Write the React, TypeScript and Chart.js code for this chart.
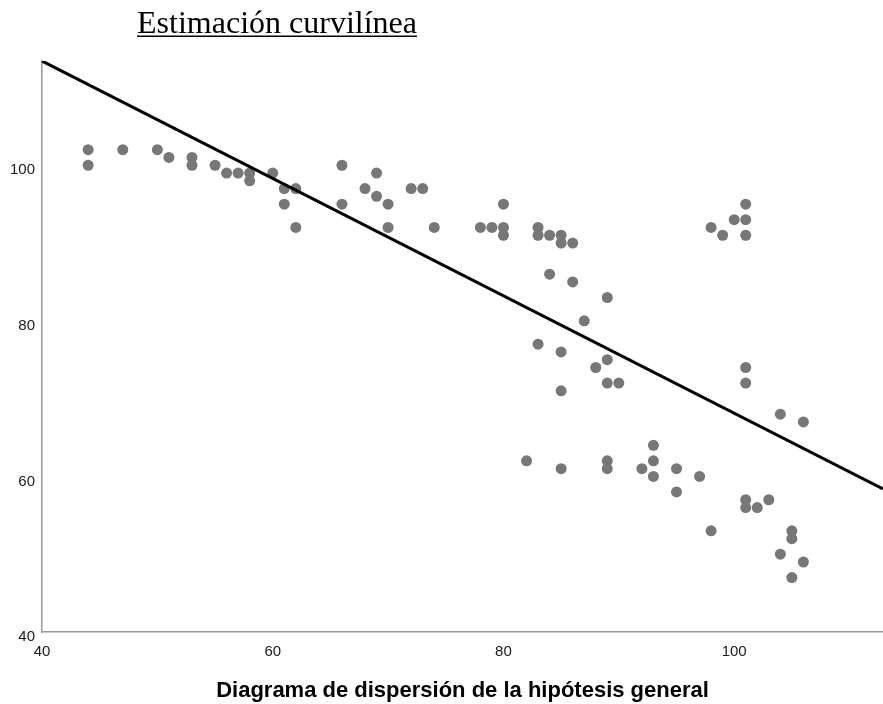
import React, { useEffect, useRef } from "react";
import Chart from "chart.js/auto";

const xValues = [44,44,47,50,51,53,53,55,56,57,58,58,60,61,62,61,62,66,66,68,69,69,70,70,72,73,74,78,79,80,80,80,83,83,84,85,85,86,84,86,89,87,83,85,89,88,89,90,85,82,85,89,89,92,93,93,93,95,95,97,98,98,99,100,101,101,101,101,101,101,101,102,103,104,106,104,105,105,105,106];
const yValues = [102,100,102,102,101,101,100,100,99,99,99,98,99,97,97,95,92,100,95,97,99,96,95,92,97,97,92,92,92,95,92,91,92,91,91,91,90,90,86,85,83,80,77,76,75,74,72,72,71,62,61,62,61,61,64,62,60,61,58,60,53,92,91,93,95,93,91,74,72,57,56,56,57,68,67,50,53,52,47,49];

const fitX = [40, 112.9];
const fitY = [113.4, 58.4];

const xTicks = [40, 60, 80, 100];
const yTicks = [40, 60, 80, 100];

const xRange = [40, 112.9];
const yRange = [40, 113.4];

const chartTitle = "Estimación curvilínea";
const xAxisTitle = "Diagrama de dispersión de la hipótesis general";

const titlePlugin = {
  id: "underlinedTitle",
  afterDraw(chart: any) {
    const ctx = chart.ctx;
    ctx.save();
    ctx.font = '32px "Liberation Serif"';
    ctx.fillStyle = "#000";
    ctx.textAlign = "center";
    ctx.textBaseline = "alphabetic";
    const cx = 277;
    const by = 33;
    ctx.fillText(chartTitle, cx, by);
    const w = ctx.measureText(chartTitle).width;
    ctx.fillRect(cx - w / 2, by + 2.5, w, 1.5);
    ctx.restore();
  },
};

export default function App() {
  const ref = useRef<HTMLCanvasElement>(null);
  useEffect(() => {
    if (!ref.current) return;
    const points = xValues.map((x, i) => ({ x, y: yValues[i] }));
    const fit = fitX.map((x, i) => ({ x, y: fitY[i] }));
    const chart = new Chart(ref.current, {
      type: "scatter",
      data: {
        datasets: [
          {
            data: fit,
            showLine: true,
            borderColor: "#000",
            borderWidth: 3,
            pointRadius: 0,
            fill: false,
          } as any,
          {
            data: points,
            backgroundColor: "#777777",
            borderWidth: 0,
            pointRadius: 5.5,
          },
        ],
      },
      options: {
        animation: false,
        responsive: true,
        maintainAspectRatio: false,
        layout: { autoPadding: false, padding: { top: 61, right: 0, bottom: 0, left: 0 } },
        plugins: { legend: { display: false }, tooltip: { enabled: false }, title: { display: false } },
        scales: {
          x: {
            type: "linear",
            min: xRange[0],
            max: xRange[1],
            grid: { display: false, drawTicks: false },
            border: { display: true, color: "#999", width: 1.5 },
            afterBuildTicks: (s: any) => { s.ticks = xTicks.map((v) => ({ value: v })); },
            afterFit: (s: any) => { s.height = 72; },
            ticks: { color: "#1a1a1a", font: { family: '"Liberation Sans"', size: 15 }, padding: 11, maxRotation: 0 },
            title: {
              display: true,
              text: xAxisTitle,
              color: "#000",
              font: { family: '"Liberation Sans"', size: 22, weight: "bold" },
              padding: { top: 0, bottom: 0 },
            },
          },
          y: {
            type: "linear",
            min: yRange[0],
            max: yRange[1],
            grid: { display: false, drawTicks: false },
            border: { display: true, color: "#999", width: 1.5 },
            afterBuildTicks: (s: any) => { s.ticks = yTicks.map((v) => ({ value: v })); },
            afterFit: (s: any) => { s.width = 42; },
            ticks: { color: "#1a1a1a", font: { family: '"Liberation Sans"', size: 15 }, padding: 7, labelOffset: 5 },
          },
        },
      },
      plugins: [titlePlugin],
    });
    return () => chart.destroy();
  }, []);
  return (
    <div style={{ position: "absolute", left: 0, top: 0, width: 883, height: 704, background: "#fff" }}>
      <canvas ref={ref} />
    </div>
  );
}
